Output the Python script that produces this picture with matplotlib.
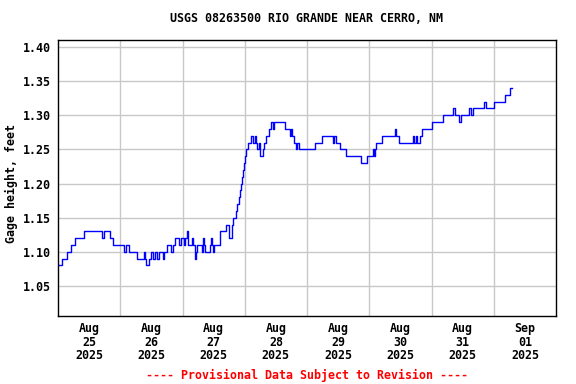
import matplotlib
matplotlib.use("Agg")
import matplotlib.pyplot as plt
import matplotlib.dates as mdates
from datetime import datetime, timedelta

# ---- data: step-change points (hours since 2025-08-25 00:00) and gage height (ft)
hours = [0, 1.7, 3.3, 5.0, 6.6, 10.1, 17.1, 17.8, 19.9, 21.3,
         25.5, 26.3, 27.5, 30.5, 33.3, 33.7, 33.9, 35.0, 36.0, 36.8,
         37.5, 38.3, 39.0, 40.3, 41.0, 42.2, 43.7, 44.5, 45.3, 46.8,
         47.6, 48.4, 49.0, 49.6, 50.0, 51.5, 52.2, 52.7, 53.0, 53.3,
         53.5, 55.4, 55.8, 56.1, 56.6, 58.6, 59.0, 59.4, 59.6, 60.0,
         62.3, 64.6, 66.0, 67.0, 67.6, 68.5, 69.1, 69.7, 70.3, 70.7,
         71.1, 71.4, 71.8, 72.2, 72.6, 73.4, 74.6, 75.2, 75.9, 76.3,
         76.9, 77.6, 78.0, 79.1, 79.5, 80.1, 81.3, 82.3, 82.8, 83.2,
         87.6, 89.4, 89.8, 90.2, 91.1, 91.7, 92.2, 92.9, 99.1, 101.7,
         106.2, 106.6, 107.0, 108.8, 111.1, 116.9, 119.1, 121.6, 122.0, 122.3,
         122.7, 125.0, 129.8, 130.2, 131.6, 136.9, 137.3, 138.2, 138.6, 139.5,
         140.5, 144.0, 148.3, 152.4, 152.9, 154.6, 155.5, 158.4, 159.1, 160.1,
         164.3, 165.2, 168.1, 172.3, 174.3, 175.2]
values = [1.08, 1.09, 1.10, 1.11, 1.12, 1.13, 1.12, 1.13, 1.12, 1.11,
          1.10, 1.11, 1.10, 1.09, 1.10, 1.09, 1.08, 1.09, 1.10, 1.09,
          1.10, 1.09, 1.10, 1.09, 1.10, 1.11, 1.10, 1.11, 1.12, 1.11,
          1.12, 1.11, 1.12, 1.13, 1.11, 1.12, 1.11, 1.10, 1.09, 1.10,
          1.11, 1.10, 1.12, 1.11, 1.10, 1.11, 1.12, 1.11, 1.10, 1.11,
          1.13, 1.14, 1.12, 1.14, 1.15, 1.16, 1.17, 1.18, 1.19, 1.20,
          1.21, 1.22, 1.23, 1.24, 1.25, 1.26, 1.27, 1.26, 1.27, 1.26,
          1.25, 1.26, 1.24, 1.25, 1.26, 1.27, 1.28, 1.29, 1.28, 1.29,
          1.28, 1.27, 1.28, 1.27, 1.26, 1.25, 1.26, 1.25, 1.26, 1.27,
          1.26, 1.27, 1.26, 1.25, 1.24, 1.23, 1.24, 1.25, 1.24, 1.25,
          1.26, 1.27, 1.28, 1.27, 1.26, 1.27, 1.26, 1.27, 1.26, 1.27,
          1.28, 1.29, 1.30, 1.31, 1.30, 1.29, 1.30, 1.31, 1.30, 1.31,
          1.32, 1.31, 1.32, 1.33, 1.34, 1.34]

start = datetime(2025, 8, 25)
times = [start + timedelta(hours=h) for h in hours]

title = "USGS 08263500 RIO GRANDE NEAR CERRO, NM"
ylabel = "Gage height, feet"
footer = "---- Provisional Data Subject to Revision ----"
ytick_vals = [1.05, 1.10, 1.15, 1.20, 1.25, 1.30, 1.35, 1.40]

font = "DejaVu Sans Mono"
fs = 8.4

fig = plt.figure(figsize=(5.76, 3.84), dpi=100)
ax = fig.add_axes([58/576, 1-316/384, (556-58)/576, (316-40)/384])

ax.plot(times, values, drawstyle="steps-post", color="#0000ff", lw=1.0)

ax.set_xlim(start, start + timedelta(days=8))
ax.set_ylim(1.006, 1.4102)

# y ticks
ax.set_yticks(ytick_vals)
ax.set_yticklabels([f"{v:.2f}" for v in ytick_vals], fontfamily=font,
                   fontweight="bold", fontsize=fs)

# x: gridlines at midnight, labels at noon
major = [start + timedelta(days=d) for d in range(1, 8)]
minor = [start + timedelta(days=d, hours=12) for d in range(8)]
ax.set_xticks(major)
ax.set_xticklabels([])
ax.set_xticks(minor, minor=True)
ax.set_xticklabels([f"{d:%b}\n{d:%d}\n{d:%Y}" for d in minor], minor=True,
                   fontfamily=font, fontweight="bold", fontsize=fs,
                   linespacing=1.05)
ax.tick_params(axis="both", which="both", length=0)
ax.tick_params(axis="x", which="minor", pad=4.6)
ax.tick_params(axis="y", pad=5)

ax.grid(True, which="major", color="#c8c8c8", lw=1.0)
ax.set_axisbelow(True)
for s in ax.spines.values():
    s.set_linewidth(1.0)
    s.set_color("black")

ax.set_ylabel(ylabel, fontfamily=font, fontweight="bold", fontsize=fs)
ax.yaxis.set_label_coords((18 - 58) / 498, 0.48)

cx = (58 + 556) / 2 / 576
fig.text(cx, 1 - 19/384, title, ha="center", va="center",
         fontfamily=font, fontweight="bold", fontsize=fs)
fig.text(cx, 1 - 375/384, footer, ha="center", va="center",
         fontfamily=font, fontweight="bold", fontsize=fs, color="red")

fig.savefig("out.png", dpi=100)
